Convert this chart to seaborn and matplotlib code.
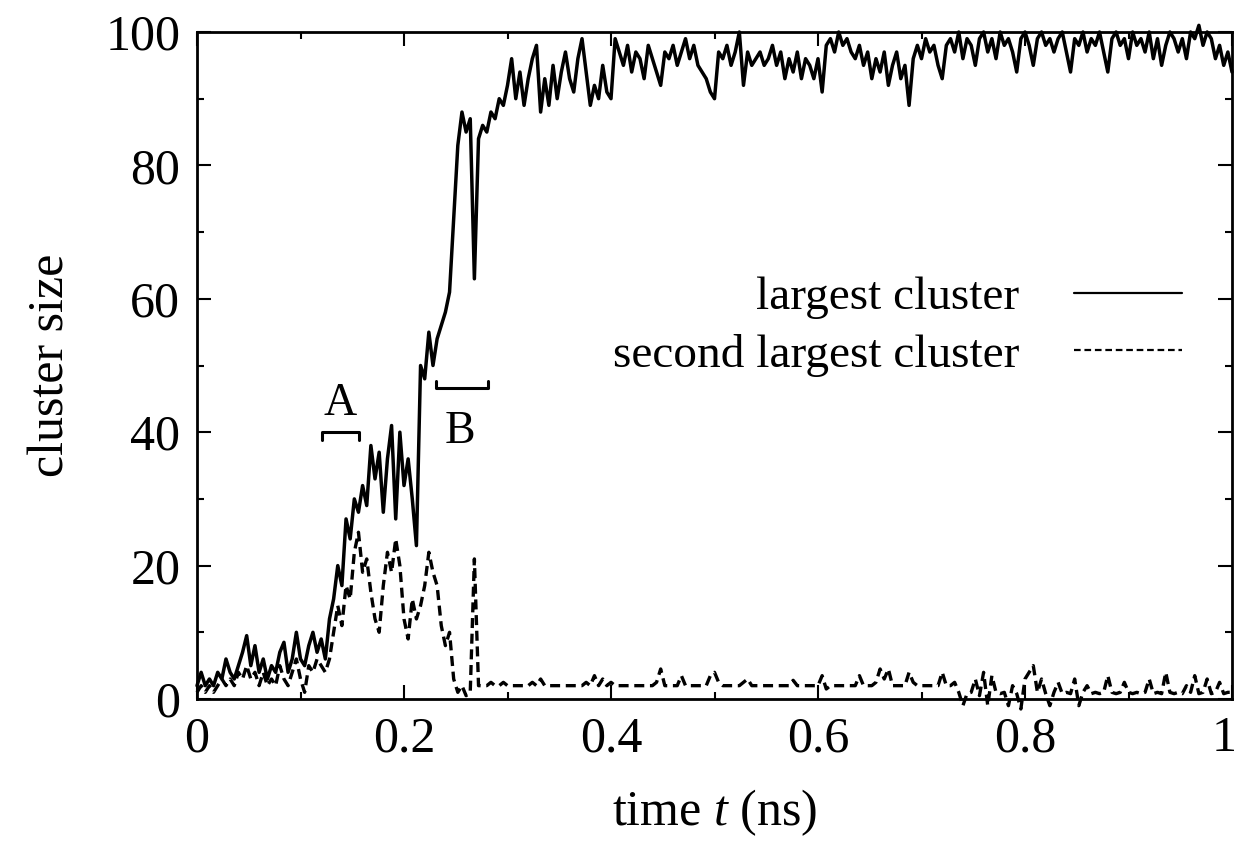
import numpy as np
import matplotlib
matplotlib.use("Agg")
import matplotlib.pyplot as plt
from matplotlib.ticker import MultipleLocator
from matplotlib.transforms import ScaledTranslation
import seaborn as sns

# cluster sizes, one value every 0.004 ns from 0 to 1 ns
largest = [
    2, 4, 2, 3, 2, 4, 3, 6, 4, 3,
    5, 7, 9.5, 5, 8, 4, 6, 3, 5, 4,
    7, 8.5, 4, 6, 10, 6, 5, 8, 10, 7,
    9, 6, 12, 15, 20, 17, 27, 24, 30, 28,
    32, 29, 38, 33, 37, 28, 36, 41, 27, 40,
    32, 36, 30, 23, 50, 48, 55, 50, 54, 56,
    58, 61, 72, 83, 88, 85, 87, 63, 84, 86,
    85, 88, 87, 90, 89, 92, 96, 90, 94, 89,
    93, 96, 98, 88, 93, 89, 95, 90, 94, 97,
    93, 91, 96, 99, 94, 89, 92, 90, 95, 91,
    90, 99, 97, 95, 98, 94, 97, 96, 93, 98,
    96, 94, 92, 97, 96, 98, 95, 97, 99, 96,
    98, 95, 94, 93, 91, 90, 97, 96, 98, 95,
    97, 100, 92, 97, 95, 96, 97, 95, 96, 98,
    95, 97, 93, 96, 94, 97, 93, 96, 95, 93,
    96, 91, 98, 99, 97, 100, 98, 99, 97, 96,
    98, 95, 97, 93, 96, 94, 97, 92, 95, 97,
    93, 95, 89, 96, 98, 96, 99, 97, 98, 95,
    93, 98, 99, 97, 100, 96, 99, 98, 95, 99,
    100, 97, 99, 96, 100, 98, 99, 97, 94, 99,
    100, 98, 95, 99, 100, 98, 99, 97, 99, 100,
    97, 94, 99, 98, 100, 97, 99, 98, 100, 97,
    94, 99, 100, 98, 99, 96, 100, 98, 99, 97,
    100, 96, 99, 95, 98, 100, 99, 97, 99, 96,
    100, 99, 101, 98, 100, 99, 96, 98, 95, 97,
    94,
]

second = [
    1, 2, 1, 2, 1, 2, 3, 2, 3, 2,
    4, 3, 5, 3, 4, 2, 4, 2, 3, 2,
    5, 3, 2, 4, 6, 3, 1, 5, 4, 6,
    5, 4, 6, 10, 14, 11, 17, 15, 22, 25,
    19, 21, 16, 12, 10, 17, 22, 19, 24, 20,
    12, 9, 15, 12, 14, 17, 22, 19, 17, 11,
    8, 10, 3, 1, 2, 0.5, 1, 21, 2, 2,
    2, 2.5, 2, 2, 2.5, 2, 2, 2, 2, 2,
    2, 2.5, 2, 3, 2, 2, 2, 2, 2, 2,
    2, 2, 2, 2, 2.5, 2, 3.5, 2, 3, 2,
    2.5, 2, 2, 2, 2, 2, 2, 2, 2, 2,
    2, 2.5, 4.5, 2, 2, 2, 2, 3.5, 2, 2,
    2, 2, 2, 2, 3.5, 4, 2.5, 2, 2, 2,
    2, 2, 2.5, 3, 2, 2, 2, 2, 2, 2,
    2, 2, 2, 2, 2.8, 2, 2, 2, 2, 2,
    2, 3.5, 1.5, 2, 2, 2, 2, 2, 2, 2,
    3.5, 2, 2, 2, 2.5, 4.5, 3, 4.5, 2, 2,
    2, 2, 4, 2.5, 2, 2, 2, 2, 2, 2,
    4, 2, 2, 2.5, 1, -1, 0.8, 1, 3, 0.5,
    4, -1, 3.5, 1, 0.8, 1, -1, 2, 0.8, -1.5,
    3, 4, 5, 1, 3, 0.8, -1, 1, 2.5, 0.8,
    1, 0.8, 3, -1, 1, 2, 0.8, 1, 0.8, 1,
    3.5, 1, 0.8, 1, 2.5, 1, 0.8, 1, 0.8, 1,
    3, 0.8, 1, 0.8, 4, 1, 0.8, 1, 0.8, 2,
    1, 3.5, 0.8, 1, 3, 0.8, 1, 2.5, 0.8, 1,
    1,
]

time_ns = np.linspace(0, 1, len(largest))

x_ticks = [0, 0.2, 0.4, 0.6, 0.8, 1.0]
x_tick_labels = ["0", "0.2", "0.4", "0.6", "0.8", "1"]
y_ticks = [0, 20, 40, 60, 80, 100]

# bracket annotations (t, size)
bracket_a_x = [0.121, 0.121, 0.157, 0.157]
bracket_a_y = [38.9, 40, 40, 38.9]
bracket_b_x = [0.231, 0.231, 0.281, 0.281]
bracket_b_y = [47.7, 46.6, 46.6, 47.7]

sns.set_theme(style="ticks")
plt.rcParams["font.family"] = ["Liberation Serif", "DejaVu Serif"]
plt.rcParams["mathtext.fontset"] = "custom"
plt.rcParams["mathtext.rm"] = "Liberation Serif"
plt.rcParams["mathtext.it"] = "Liberation Serif:italic"
plt.rcParams["text.color"] = "black"
plt.rcParams["axes.labelcolor"] = "black"
plt.rcParams["xtick.color"] = "black"
plt.rcParams["ytick.color"] = "black"

fig = plt.figure(figsize=(12.41, 8.48), dpi=100)
ax = fig.add_axes([197 / 1241, 1 - 699 / 848, 1035 / 1241, 667 / 848])

sns.lineplot(x=time_ns, y=largest, ax=ax, color="black", lw=2.5,
             label="largest cluster", clip_on=False)
sns.lineplot(x=time_ns, y=second, ax=ax, color="black", lw=2.4,
             linestyle=(0, (3, 1.7)), label="second largest cluster", clip_on=False)

ax.plot(bracket_a_x, bracket_a_y, color="black", lw=2.2)
ax.plot(bracket_b_x, bracket_b_y, color="black", lw=2.2)
ax.text(0.138, 44.2, "A", fontsize=33, ha="center", va="center", color="black")
ax.text(0.254, 40.0, "B", fontsize=33, ha="center", va="center", color="black")

ax.set_xlim(0, 1)
ax.set_ylim(0, 100)
ax.set_xticks(x_ticks)
ax.set_xticklabels(x_tick_labels)
ax.set_yticks(y_ticks)
ax.xaxis.set_minor_locator(MultipleLocator(0.1))
ax.yaxis.set_minor_locator(MultipleLocator(10))
ax.tick_params(which="major", direction="in", top=True, right=True,
               length=10, width=1.5, labelsize=36, pad=12, colors="black")
ax.tick_params(which="minor", direction="in", top=True, right=True,
               length=5, width=1.5)
for s in ax.spines.values():
    s.set_linewidth(2)
    s.set_color("black")

# nudge the last x label so it stays inside the figure
last = ax.get_xticklabels()[-1]
last.set_transform(last.get_transform() + ScaledTranslation(-6 / 72, 0, fig.dpi_scale_trans))

ax.set_xlabel("time $t$ (ns)", fontsize=36, labelpad=18, color="black")
ax.set_ylabel("cluster size", fontsize=36, labelpad=22, color="black")

leg = ax.legend(loc="center right", bbox_to_anchor=(0.952, 0.5585),
                frameon=False, markerfirst=False, fontsize=34,
                handlelength=2.3, handletextpad=1.15, labelspacing=0.3,
                borderpad=0, borderaxespad=0)
for h in leg.get_lines():
    h.set_linewidth(1.6)
for t in leg.get_texts():
    t.set_color("black")

fig.savefig("out.png", dpi=100)
